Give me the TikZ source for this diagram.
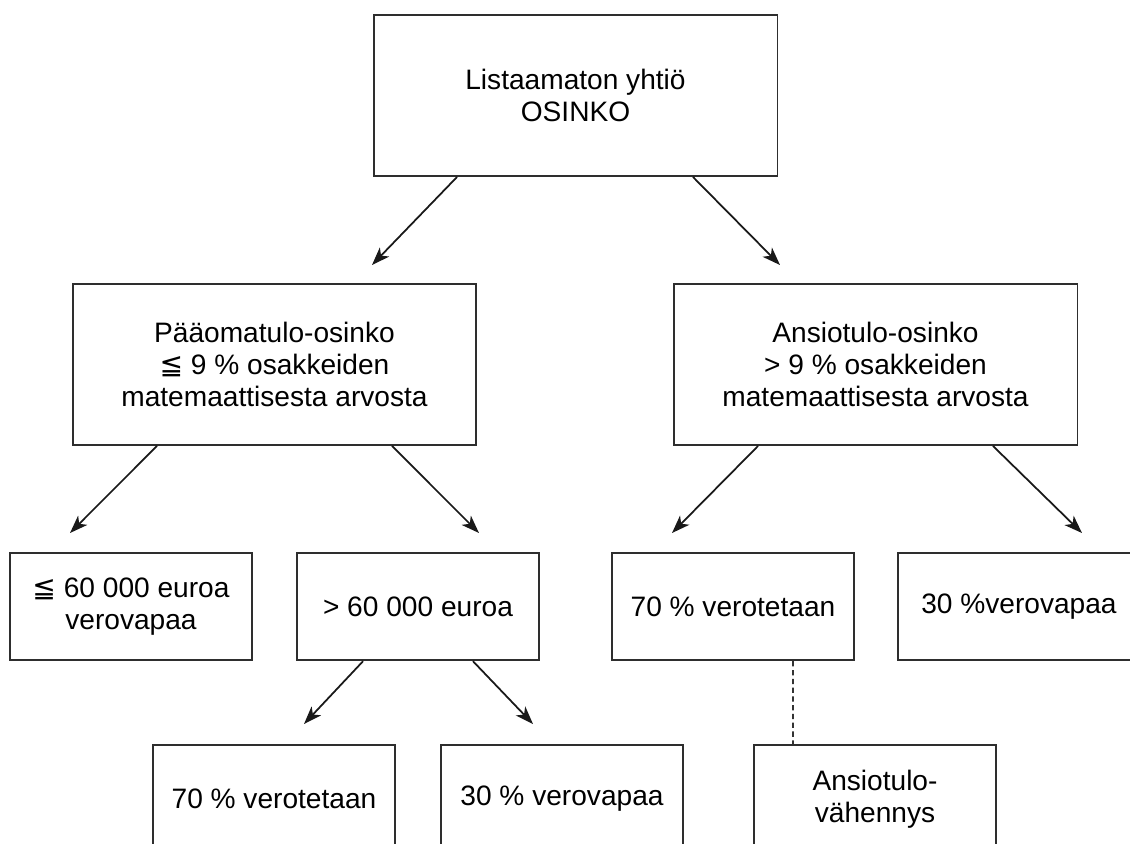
\documentclass[tikz,border=0pt]{standalone}
\usepackage{fontspec}
\setmainfont{Liberation Sans}
\newfontfamily\symfont{DejaVu Sans}
\usetikzlibrary{arrows.meta,positioning,calc}
\definecolor{BoxLine}{HTML}{2E2E2E}

\begin{document}
\begin{tikzpicture}[x=0.02cm, y=-0.02cm,
    bigbox/.style={draw=BoxLine, line width=1.1pt, minimum width=8.08cm, minimum height=3.22cm, inner sep=0pt, align=center, font=\fontsize{16}{18.3}\selectfont},
    smallbox/.style={draw=BoxLine, line width=1.1pt, minimum width=4.84cm, minimum height=2.15cm, inner sep=0pt, align=center, font=\fontsize{16}{18.3}\selectfont},
    arr/.style={draw=black!90, line width=1pt, -{Stealth[length=0.36cm, width=0.26cm, inset=0.1cm]}},
    link/.style={draw=black!80, line width=0.9pt, dash pattern=on 3pt off 2pt}]
    \useasboundingbox (0,0) rectangle (1130,843);

    % top level
    \node[bigbox] (yhtio) at (575.5,95.5) {Listaamaton yhtiö\\OSINKO};

    % second level
    \node[bigbox] (paaoma) at (274.5,364.5) {Pääomatulo-osinko\\{\symfont ≦} 9 \% osakkeiden\\matemaattisesta arvosta};
    \node[bigbox] (ansio) at (875.5,364.5) {Ansiotulo-osinko\\> 9 \% osakkeiden\\matemaattisesta arvosta};

    % third level
    \node[smallbox] (alle) at (131,606.5) {{\symfont ≦} 60 000 euroa\\verovapaa};
    \node[smallbox] (yli) at (418,606.5) {> 60 000 euroa};
    \node[smallbox] (verot) at (733,606.5) {70 \% verotetaan};
    \node[smallbox] (vapaa) at (1019,606.5) {30 \%verovapaa};

    % fourth level
    \node[smallbox] (yliverot) at (274,799) {70 \% verotetaan};
    \node[smallbox] (ylivapaa) at (562,799) {30 \% verovapaa};
    \node[smallbox] (vahennys) at (875,799) {Ansiotulo-\\vähennys};

    % arrow ends
    \coordinate (yhtio-l) at (372,265);
    \coordinate (yhtio-r) at (780,265);
    \coordinate (paaoma-l) at (70,533);
    \coordinate (paaoma-r) at (479,533);
    \coordinate (ansio-l) at (672,533);
    \coordinate (ansio-r) at (1082,533);
    \coordinate (yli-l) at (304,724);
    \coordinate (yli-r) at (533,724);

    \draw[arr] ([xshift=-2.37cm]yhtio.south) -- (yhtio-l);
    \draw[arr] ([xshift=2.35cm]yhtio.south) -- (yhtio-r);
    \draw[arr] ([xshift=-2.35cm]paaoma.south) -- (paaoma-l);
    \draw[arr] ([xshift=2.35cm]paaoma.south) -- (paaoma-r);
    \draw[arr] ([xshift=-2.35cm]ansio.south) -- (ansio-l);
    \draw[arr] ([xshift=2.35cm]ansio.south) -- (ansio-r);
    \draw[arr] ([xshift=-1.1cm]yli.south) -- (yli-l);
    \draw[arr] ([xshift=1.1cm]yli.south) -- (yli-r);
    \draw[link] ([xshift=1.2cm]verot.south) -- ([xshift=-1.64cm]vahennys.north);
\end{tikzpicture}
\end{document}
